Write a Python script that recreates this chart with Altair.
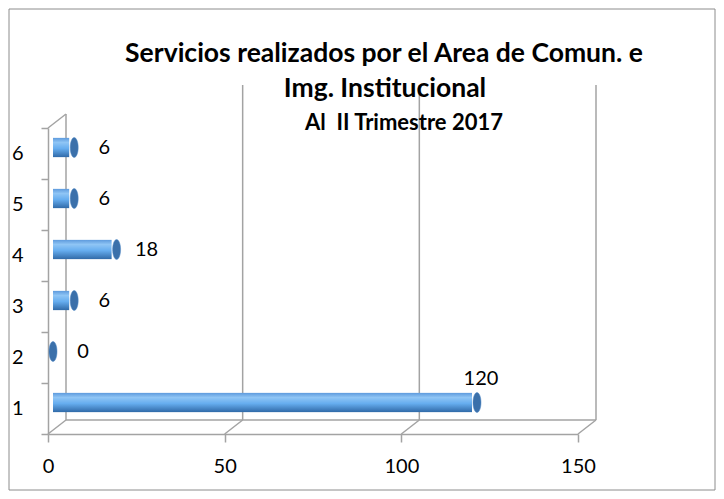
import altair as alt
import pandas as pd

categories = ["1", "2", "3", "4", "5", "6"]
values = [120, 0, 6, 18, 6, 6]
x_ticks = [0, 50, 100, 150]

title_lines = ["Servicios realizados por el Area de Comun. e", "Img. Institucional"]
subtitle = "Al\u00a0 II Trimestre 2017"

df = pd.DataFrame({"cat": categories, "value": values})
ticks_df = pd.DataFrame({"t": x_ticks})
frame_df = pd.DataFrame({"a": [0]})

order = list(reversed(categories))
GRAY = "#a3a3a3"
FONT = "Lato"
DEPTH = 18  # 3D depth offset of the back wall, px
BAR_SHIFT = 5

xs = alt.Scale(domain=[0, 150], nice=False, zero=True)
ys = alt.Scale(paddingInner=0, paddingOuter=0)

x_axis = alt.Axis(
    values=x_ticks, grid=False, title=None, domainColor=GRAY, domainWidth=1.5,
    tickColor=GRAY, tickWidth=1.5, tickSize=8, labelPadding=14, labelFlush=False,
    labelFontSize=20, labelFont=FONT, labelColor="black",
)
y_axis = alt.Axis(
    title=None, domainColor=GRAY, domainWidth=1.5, tickColor=GRAY, tickWidth=1.5,
    tickSize=7, tickBand="extent", labelPadding=18, labelAngle=0,
    labelFontSize=20, labelFont=FONT, labelColor="black",
)

gradient = alt.LinearGradient(
    gradient="linear",
    stops=[
        alt.GradientStop(color="#5a97db", offset=0),
        alt.GradientStop(color="#8fc5f5", offset=0.25),
        alt.GradientStop(color="#66adef", offset=0.55),
        alt.GradientStop(color="#2e67a5", offset=1),
    ],
    x1=0, x2=0, y1=0, y2=1,
)

ellipse = "M 0 -1 A 0.4 1 0 1 1 0 1 A 0.4 1 0 1 1 0 -1 Z"


def xq(field):
    return alt.X(field, scale=xs, axis=x_axis)


def yn():
    return alt.Y("cat:N", sort=order, scale=ys, axis=y_axis)


# decorative 3D frame
grid_back = alt.Chart(ticks_df).transform_filter("datum.t > 0").mark_rule(
    color=GRAY, strokeWidth=1.5, xOffset=DEPTH
).encode(x=xq("t:Q"), y=alt.value(-43), y2=alt.value(292))

wall_back = alt.Chart(ticks_df).transform_filter("datum.t == 0").mark_rule(
    color=GRAY, strokeWidth=1.5, xOffset=DEPTH
).encode(x=xq("t:Q"), y=alt.value(-14), y2=alt.value(292))

wall_top = alt.Chart(ticks_df).transform_filter("datum.t == 0").mark_rule(
    color=GRAY, strokeWidth=1.5, x2Offset=DEPTH
).encode(x=xq("t:Q"), x2="t:Q", y=alt.value(0), y2=alt.value(-14))

floor_diag = alt.Chart(ticks_df).mark_rule(
    color=GRAY, strokeWidth=1.5, x2Offset=DEPTH
).encode(x=xq("t:Q"), x2="t:Q", y=alt.value(306), y2=alt.value(292))

floor_back = alt.Chart(ticks_df).mark_rule(
    color=GRAY, strokeWidth=1.5, xOffset=DEPTH, x2Offset=DEPTH
).encode(x=xq("min(t):Q"), x2="max(t):Q", y=alt.value(292))

border = alt.Chart(frame_df).mark_rect(filled=False, stroke="#8c8c8c", strokeWidth=1).encode(
    x=alt.value(-39), x2=alt.value(667), y=alt.value(-119), y2=alt.value(362)
)

title1 = alt.Chart(frame_df).mark_text(
    text=title_lines[0], font=FONT, fontSize=26.5, fontWeight="bold", color="black",
    align="center", baseline="alphabetic",
).encode(x=alt.value(336), y=alt.value(-66))

title2 = alt.Chart(frame_df).mark_text(
    text=title_lines[1], font=FONT, fontSize=26.5, fontWeight="bold", color="black",
    align="center", baseline="alphabetic",
).encode(x=alt.value(337), y=alt.value(-31))

title3 = alt.Chart(frame_df).mark_text(
    text=subtitle, font=FONT, fontSize=22, fontWeight="bold", color="black",
    align="center", baseline="alphabetic",
).encode(x=alt.value(356), y=alt.value(2))

base = alt.Chart(df)

bars = base.mark_bar(
    size=20, color=gradient, yOffset=-6, xOffset=BAR_SHIFT, x2Offset=BAR_SHIFT,
    cornerRadiusTopLeft=6, cornerRadiusBottomLeft=6,
).encode(x=xq("value:Q"), y=yn())

caps = base.mark_point(
    shape=ellipse, size=400, filled=True, color="#3b70aa", opacity=1,
    stroke="#4f88c6", strokeWidth=0.5, yOffset=-6, xOffset=BAR_SHIFT,
).encode(x=xq("value:Q"), y=yn())

labels_small = base.transform_filter("datum.value < 100").mark_text(
    dx=30, dy=-6, fontSize=20, font=FONT, color="black", xOffset=BAR_SHIFT,
).encode(x=xq("value:Q"), y=yn(), text="value:Q")

labels_big = base.transform_filter("datum.value >= 100").mark_text(
    dx=4, dy=-30, fontSize=20, font=FONT, color="black", xOffset=BAR_SHIFT,
).encode(x=xq("value:Q"), y=yn(), text="value:Q")

chart = alt.layer(
    border, grid_back, wall_back, wall_top, floor_diag, floor_back,
    bars, caps, labels_small, labels_big, title1, title2, title3,
).properties(
    width=530,
    height=306,
    autosize=alt.AutoSizeParams(type="none"),
    padding={"left": 40, "top": 120, "right": 138, "bottom": 57},
).configure(background="white").configure_view(stroke=None)

chart.save("out.html", embed_options={"renderer": "svg", "actions": False})
